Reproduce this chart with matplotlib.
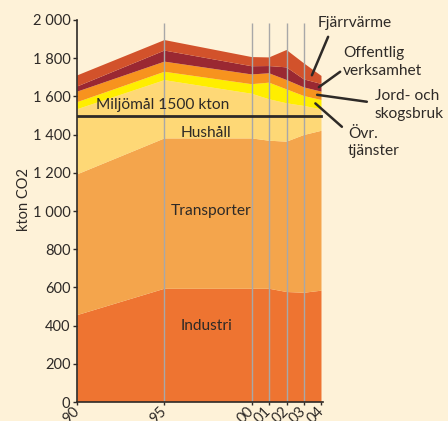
import matplotlib as mpl
mpl.use('Agg')
import matplotlib.pyplot as plt
import numpy as np

plt.rcParams['font.family'] = ['Lato', 'DejaVu Sans']

years = [1990, 1995, 2000, 2001, 2002, 2003, 2004]
industri = [455, 593, 593, 593, 576, 572, 583]
transporter = [737, 787, 787, 775, 787, 826, 837]
hushall = [341, 305, 234, 217, 201, 152, 112]
ovr_tjanster = [37, 44, 50, 87, 73, 52, 49]
jord_skog = [55, 53, 51, 49, 49, 45, 44]
offentlig = [27, 58, 43, 38, 66, 42, 40]
fjarrvarme = [58, 55, 48, 45, 91, 84, 42]
miljomal = 1500

yticks = [0, 200, 400, 600, 800, 1000, 1200, 1400, 1600, 1800, 2000]
ytick_labels = ['0', '200', '400', '600', '800', '1 000', '1 200', '1 400',
                '1 600', '1 800', '2 000']
xtick_labels = ['90', '95', '00', '01', '02', '03', '04']

bg = '#FEF2D8'
txt = '#2E2A27'
colors = ['#EE7431', '#F4A54C', '#FED876', '#FFEE00', '#F7931E', '#9A2832', '#D2522B']
layers = [industri, transporter, hushall, ovr_tjanster, jord_skog, offentlig, fjarrvarme]
fs = 11.2

fig = plt.figure(figsize=(4.48, 4.21), dpi=100, facecolor=bg)
ax = fig.add_axes([0.1725, 0.0451, 0.549, 0.9074])
ax.set_facecolor(bg)

ax.stackplot(years, *layers, colors=colors, linewidth=0)
ax.vlines(years[1:-1], 0, 1985, color='#A8A8A8', lw=1)
ax.plot([years[0], years[-1]], [miljomal, miljomal], color=txt, lw=2)

ax.set_xlim(1990, 2004.1)
ax.set_ylim(0, 2000)
ax.set_yticks(yticks)
ax.set_yticklabels(ytick_labels, fontsize=10.5, color=txt)
ax.set_xticks(years)
ax.set_xticklabels(xtick_labels, fontsize=10.5, color=txt, rotation=45,
                   ha='right', va='center', rotation_mode='anchor')
ax.tick_params(axis='y', length=3, width=1, color=txt, pad=2)
ax.tick_params(axis='x', length=2, width=1, color=txt, pad=3)
for s in ['top', 'right']:
    ax.spines[s].set_visible(False)
for s in ['left', 'bottom']:
    ax.spines[s].set_color(txt)
    ax.spines[s].set_linewidth(1.2)
ax.set_ylabel('kton CO2', fontsize=10.5, color=txt)
ax.yaxis.set_label_coords(-0.19, 0.53)

# labels inside the areas
ax.text(1994.9, miljomal + 18, 'Miljömål 1500 kton', fontsize=fs, color=txt,
        ha='center', va='bottom')
ax.text(1997.4, 1410, 'Hushåll', fontsize=fs, color=txt, ha='center', va='center')
ax.text(1997.7, 1000, 'Transporter', fontsize=fs, color=txt, ha='center', va='center')
ax.text(1997.4, 400, 'Industri', fontsize=fs, color=txt, ha='center', va='center')

# callouts for the thin layers on the right
tops = np.cumsum(layers, axis=0)
def mid(i, x):
    lo = np.interp(x, years, tops[i - 1])
    hi = np.interp(x, years, tops[i])
    return (lo + hi) / 2

callouts = [
    (6, 2003.45, (2004.38, 1912)),
    (5, 2003.85, (2005.07, 1729)),
    (4, 2003.75, (2006.6, 1572)),
    (3, 2003.65, (2005.17, 1441)),
]
for i, x, start in callouts:
    ax.annotate('', xy=(x, mid(i, x)), xytext=start, annotation_clip=False,
                arrowprops=dict(arrowstyle='-', lw=1.8, color=txt,
                                shrinkA=0, shrinkB=0))

fig.text(318 / 448, 1 - 23.3 / 421, 'Fjärrvärme', fontsize=fs, color=txt,
         ha='left', va='center')
fig.text(343 / 448, 1 - 61.7 / 421, 'Offentlig\nverksamhet', fontsize=fs,
         color=txt, ha='left', va='center', linespacing=1.4)
fig.text(375 / 448, 1 - 105 / 421, 'Jord- och\nskogsbruk', fontsize=fs,
         color=txt, ha='left', va='center', linespacing=1.4)
fig.text(348 / 448, 1 - 142.3 / 421, 'Övr.\ntjänster', fontsize=fs,
         color=txt, ha='left', va='center', linespacing=1.3)

fig.savefig('out.png', dpi=100, facecolor=bg)
